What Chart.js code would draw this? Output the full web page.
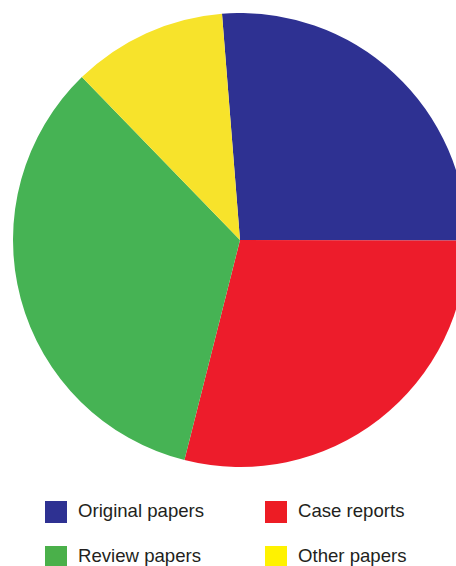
<!DOCTYPE html>
<html>
<head>
    <title>Paper types</title>
    <meta charset="utf-8">
    <script src="https://cdn.jsdelivr.net/npm/chart.js@4.4.0/dist/chart.umd.min.js"></script>
    <style>
        html, body {
            margin: 0;
            padding: 0;
            background: #fff;
        }
        .page {
            position: relative;
            width: 456px;
            height: 566px;
            overflow: hidden;
        }
        .pie-box {
            position: absolute;
            left: 13px;
            top: 13px;
            width: 454px;
            height: 454px;
        }
        .legend {
            position: absolute;
            left: 45px;
            top: 501px;
            width: 411px;
            font-family: "Liberation Sans", Arial, sans-serif;
            font-size: 18.6px;
            color: #231f20;
        }
        .legend-item {
            position: absolute;
            height: 22px;
            line-height: 20px;
            white-space: nowrap;
        }
        .legend-item span.box {
            display: inline-block;
            width: 22px;
            height: 22px;
            vertical-align: top;
            margin-right: 11px;
        }
    </style>
</head>
<body>
    <div class="page">
        <div class="pie-box">
            <canvas id="pie-chart"></canvas>
        </div>
        <div class="legend" id="legend"></div>
    </div>

    <script>
        // categories and shares (percent)
        const categories = ['Original papers', 'Case reports', 'Review papers', 'Other papers'];
        const shares = [26.3, 28.9, 33.8, 11.0];
        const sliceColors = ['#2e3192', '#ed1c2b', '#46b354', '#f7e32b'];
        const legendColors = ['#2e3192', '#ed1c24', '#4ab04a', '#fff200'];

        const ctx = document.getElementById('pie-chart').getContext('2d');
        const chart = new Chart(ctx, {
            type: 'pie',
            data: {
                labels: categories,
                datasets: [{
                    data: shares,
                    backgroundColor: sliceColors,
                    borderWidth: 0
                }]
            },
            options: {
                responsive: true,
                maintainAspectRatio: false,
                animation: false,
                rotation: -4.55,
                layout: { padding: 0 },
                plugins: {
                    legend: { display: false },
                    tooltip: { enabled: false }
                }
            }
        });

        // two-column legend below the pie
        const legend = document.getElementById('legend');
        categories.forEach((name, i) => {
            const item = document.createElement('div');
            item.className = 'legend-item';
            item.style.left = (i % 2 === 0 ? 0 : 220) + 'px';
            item.style.top = (Math.floor(i / 2) * 45) + 'px';
            item.innerHTML = '<span class="box" style="background:' + legendColors[i] + '"></span>' + name;
            legend.appendChild(item);
        });
    </script>
</body>
</html>
